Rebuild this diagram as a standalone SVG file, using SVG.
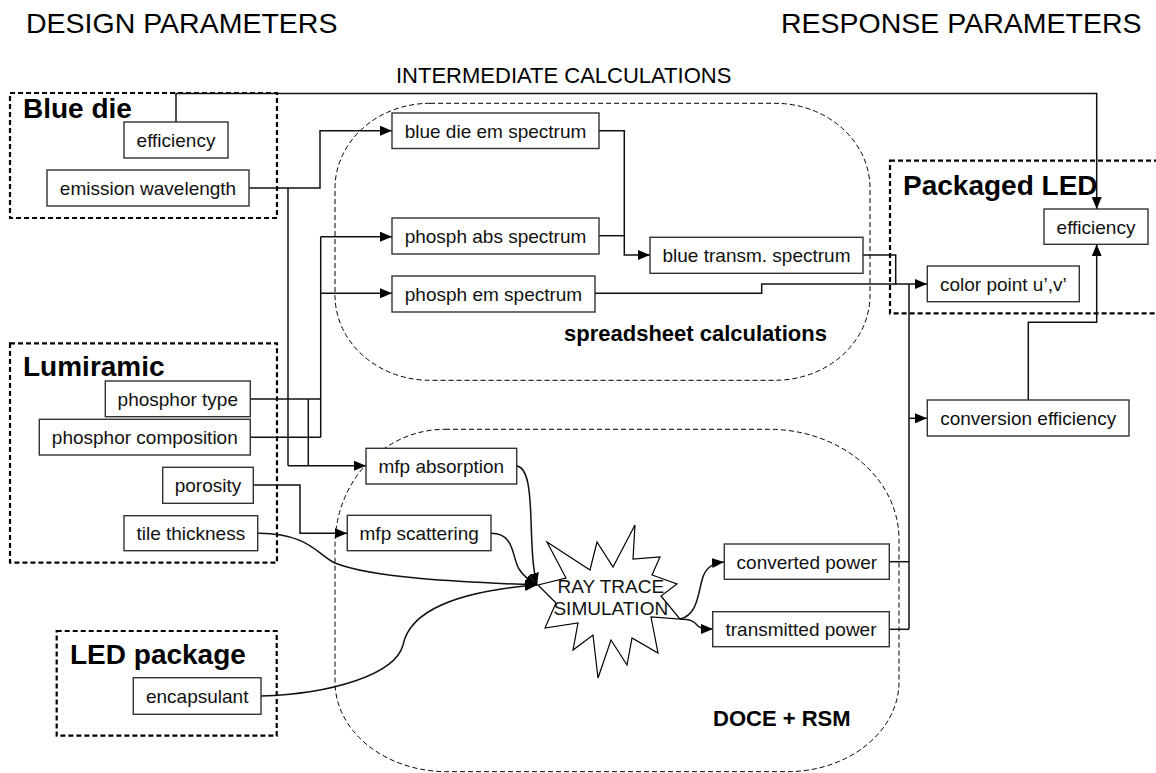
<svg xmlns="http://www.w3.org/2000/svg" width="1156" height="773" viewBox="0 0 1156 773">
<style>
.hdr{font-family:"Liberation Sans",Arial,sans-serif;font-size:28.5px;fill:#000}
.mid{font-family:"Liberation Sans",Arial,sans-serif;font-size:22px;fill:#000}
.grp{font-family:"Liberation Sans",Arial,sans-serif;font-size:28px;font-weight:bold;fill:#000}
.zone{font-family:"Liberation Sans",Arial,sans-serif;font-size:22px;font-weight:bold;fill:#000}
.lbl{font-family:"Liberation Sans",Arial,sans-serif;font-size:19px;fill:#111;text-anchor:middle}
.box{fill:#fff;stroke:#333;stroke-width:1.4}
.gbox{fill:none;stroke:#000;stroke-width:2.2;stroke-dasharray:5 3}
.zbox{fill:none;stroke:#000;stroke-width:1;stroke-dasharray:5 3}
.ln{fill:none;stroke:#111;stroke-width:1.5}
.la{fill:none;stroke:#111;stroke-width:1.5;marker-end:url(#arr)}
</style>
<defs>
<marker id="arr" markerUnits="userSpaceOnUse" markerWidth="12" markerHeight="10" refX="12" refY="5" orient="auto" viewBox="0 0 12 10">
<path d="M0,0 L12,5 L0,10 z" fill="#000"/>
</marker>
</defs>
<rect width="1156" height="773" fill="#fff"/>

<text class="hdr" x="26" y="33">DESIGN PARAMETERS</text>
<text class="hdr" x="781" y="33">RESPONSE PARAMETERS</text>
<text class="mid" x="396" y="83">INTERMEDIATE CALCULATIONS</text>

<g id="zone-spreadsheet">
<path class="zbox" d="M430,103.3 L775,103.3 A95,85 0 0 1 870,188.3 L870,295.3 A95,85 0 0 1 775,380.3 L430,380.3 A95,85 0 0 1 335,295.3 L335,188.3 A95,85 0 0 1 430,103.3 Z"/>
<text class="zone" x="564" y="341">spreadsheet calculations</text>
</g>
<g id="zone-doce">
<path class="zbox" d="M445,429.3 L769,429.3 A130,110 0 0 1 899,539.3 L899,681.7 A112,90 0 0 1 787,771.7 L447,771.7 A112,90 0 0 1 335,681.7 L335,545.3 A110,116 0 0 1 445,429.3 Z"/>
<text class="zone" x="713" y="726">DOCE + RSM</text>
</g>

<g id="grp-bluedie">
<rect class="gbox" x="10" y="93" width="267" height="125"/>
<text class="grp" x="23" y="118">Blue die</text>
</g>
<g id="grp-lumiramic">
<rect class="gbox" x="10" y="343.3" width="267" height="219.4"/>
<text class="grp" x="23" y="376">Lumiramic</text>
</g>
<g id="grp-ledpackage">
<rect class="gbox" x="56.7" y="631" width="220" height="104.7"/>
<text class="grp" x="70" y="664">LED package</text>
</g>
<g id="grp-packagedled">
<rect class="gbox" x="890" y="160.7" width="300" height="152.6"/>
<text class="grp" x="903" y="195">Packaged LED</text>
</g>

<g id="connectors">
<polyline class="la" points="176,122 176,93.5 1096.7,93.5 1096.7,209"/>
<polyline class="la" points="249,188 320,188 320,130.7 392,130.7"/>
<polyline class="ln" points="288,188 288,465.7"/>
<polyline class="la" points="599,130.7 624.3,130.7 624.3,255 650,255"/>
<polyline class="ln" points="599,235.7 624.3,235.7"/>
<polyline class="la" points="863,255 895.7,255 895.7,284 927,284"/>
<polyline class="ln" points="595,293.3 761.7,293.3 761.7,284 896,284"/>
<polyline class="la" points="320.7,236.7 392,236.7"/>
<polyline class="la" points="320.7,293.3 392,293.3"/>
<polyline class="ln" points="320.7,236.7 320.7,437.3"/>
<polyline class="ln" points="250,399 320.7,399"/>
<polyline class="ln" points="250,437.3 320.7,437.3"/>
<polyline class="ln" points="308.3,399 308.3,465.7"/>
<polyline class="la" points="288,465.7 366,465.7"/>
<polyline class="la" points="253,485 300,485 300,533.3 347,533.3"/>
<polyline class="ln" points="909,284 909,629.3"/>
<polyline class="ln" points="889,561.7 909,561.7"/>
<polyline class="ln" points="889,629.3 909,629.3"/>
<polyline class="la" points="909,418.3 927,418.3"/>
<polyline class="la" points="1028.3,400 1028.3,322.3 1096.7,322.3 1096.7,244.3"/>
<path class="la" d="M258,533.3 C308,533 318,555 335,563 C372,578 460,582 537,585"/>
<path class="la" d="M261,696 C330,694 395,675 403,645 C410,610 460,591 537,585"/>
<path class="la" d="M517,466 C528,468 530,490 531,520 C532,552 533,570 537,585"/>
<path class="la" d="M491,533.3 C515,533 512,558 519,569 C524,577 530,581 537,585"/>
<path class="la" d="M680,619 C697,615 698,595 702,580 C705,568 712,563 724,562"/>
<path class="la" d="M680,619 C690,619 694,621 698,626 C701,629 705,629 713,629"/>
</g>

<g id="n-eff-die"><rect class="box" x="124" y="122" width="104" height="36"/><text class="lbl" x="176" y="147">efficiency</text></g>
<g id="n-emission"><rect class="box" x="47" y="170" width="202" height="36"/><text class="lbl" x="148" y="195">emission wavelength</text></g>
<g id="n-bluedieem"><rect class="box" x="392" y="113" width="207" height="35.5"/><text class="lbl" x="495.5" y="137.5">blue die em spectrum</text></g>
<g id="n-phabs"><rect class="box" x="392" y="218" width="207" height="36"/><text class="lbl" x="495.5" y="243">phosph abs spectrum</text></g>
<g id="n-phem"><rect class="box" x="392" y="276" width="203" height="36"/><text class="lbl" x="493.5" y="301">phosph em spectrum</text></g>
<g id="n-bluetransm"><rect class="box" x="650" y="237.3" width="213" height="36"/><text class="lbl" x="756.5" y="262">blue transm. spectrum</text></g>
<g id="n-eff-led"><rect class="box" x="1044" y="209" width="104" height="35.3"/><text class="lbl" x="1096" y="233.5">efficiency</text></g>
<g id="n-colorpoint"><rect class="box" x="927.3" y="266" width="152" height="35.7"/><text class="lbl" x="1003.3" y="290.7">color point u’,v’</text></g>
<g id="n-conveff"><rect class="box" x="927.3" y="400" width="201.7" height="36"/><text class="lbl" x="1028.2" y="424.7">conversion efficiency</text></g>
<g id="n-phtype"><rect class="box" x="105.3" y="381" width="145" height="35.7"/><text class="lbl" x="177.8" y="405.7">phosphor type</text></g>
<g id="n-phcomp"><rect class="box" x="39.3" y="419.3" width="211" height="35.7"/><text class="lbl" x="144.8" y="444">phosphor composition</text></g>
<g id="n-porosity"><rect class="box" x="162.7" y="467.3" width="90.6" height="36"/><text class="lbl" x="208" y="492">porosity</text></g>
<g id="n-tile"><rect class="box" x="124" y="515.7" width="133.7" height="35"/><text class="lbl" x="190.8" y="540">tile thickness</text></g>
<g id="n-mfpabs"><rect class="box" x="366" y="448.3" width="150.7" height="35.7"/><text class="lbl" x="441.3" y="472.7">mfp absorption</text></g>
<g id="n-mfpscat"><rect class="box" x="347.3" y="515.3" width="143.7" height="35.4"/><text class="lbl" x="419.2" y="540">mfp scattering</text></g>
<g id="n-raytrace">
<polygon points="635,525 633,559 660,557 652,575 677,584 661,596 680,619 651,617 658,653 632,638 627,665 611,640 598,678 593,635 573,650 578,623 545,628 556,603 538,585 566,578 547,542 590,570 597,542 613,567" fill="#fff" stroke="#000" stroke-width="1.2"/>
<text class="lbl" x="610.8" y="593.3">RAY TRACE</text>
<text class="lbl" x="610.8" y="615">SIMULATION</text>
</g>
<g id="n-converted"><rect class="box" x="724.3" y="544" width="165" height="35.3"/><text class="lbl" x="806.8" y="568.5">converted power</text></g>
<g id="n-transmitted"><rect class="box" x="712.7" y="611.7" width="176.6" height="35"/><text class="lbl" x="801" y="636">transmitted power</text></g>
<g id="n-encaps"><rect class="box" x="133.3" y="677.7" width="127.7" height="36.6"/><text class="lbl" x="197.2" y="703">encapsulant</text></g>
</svg>
